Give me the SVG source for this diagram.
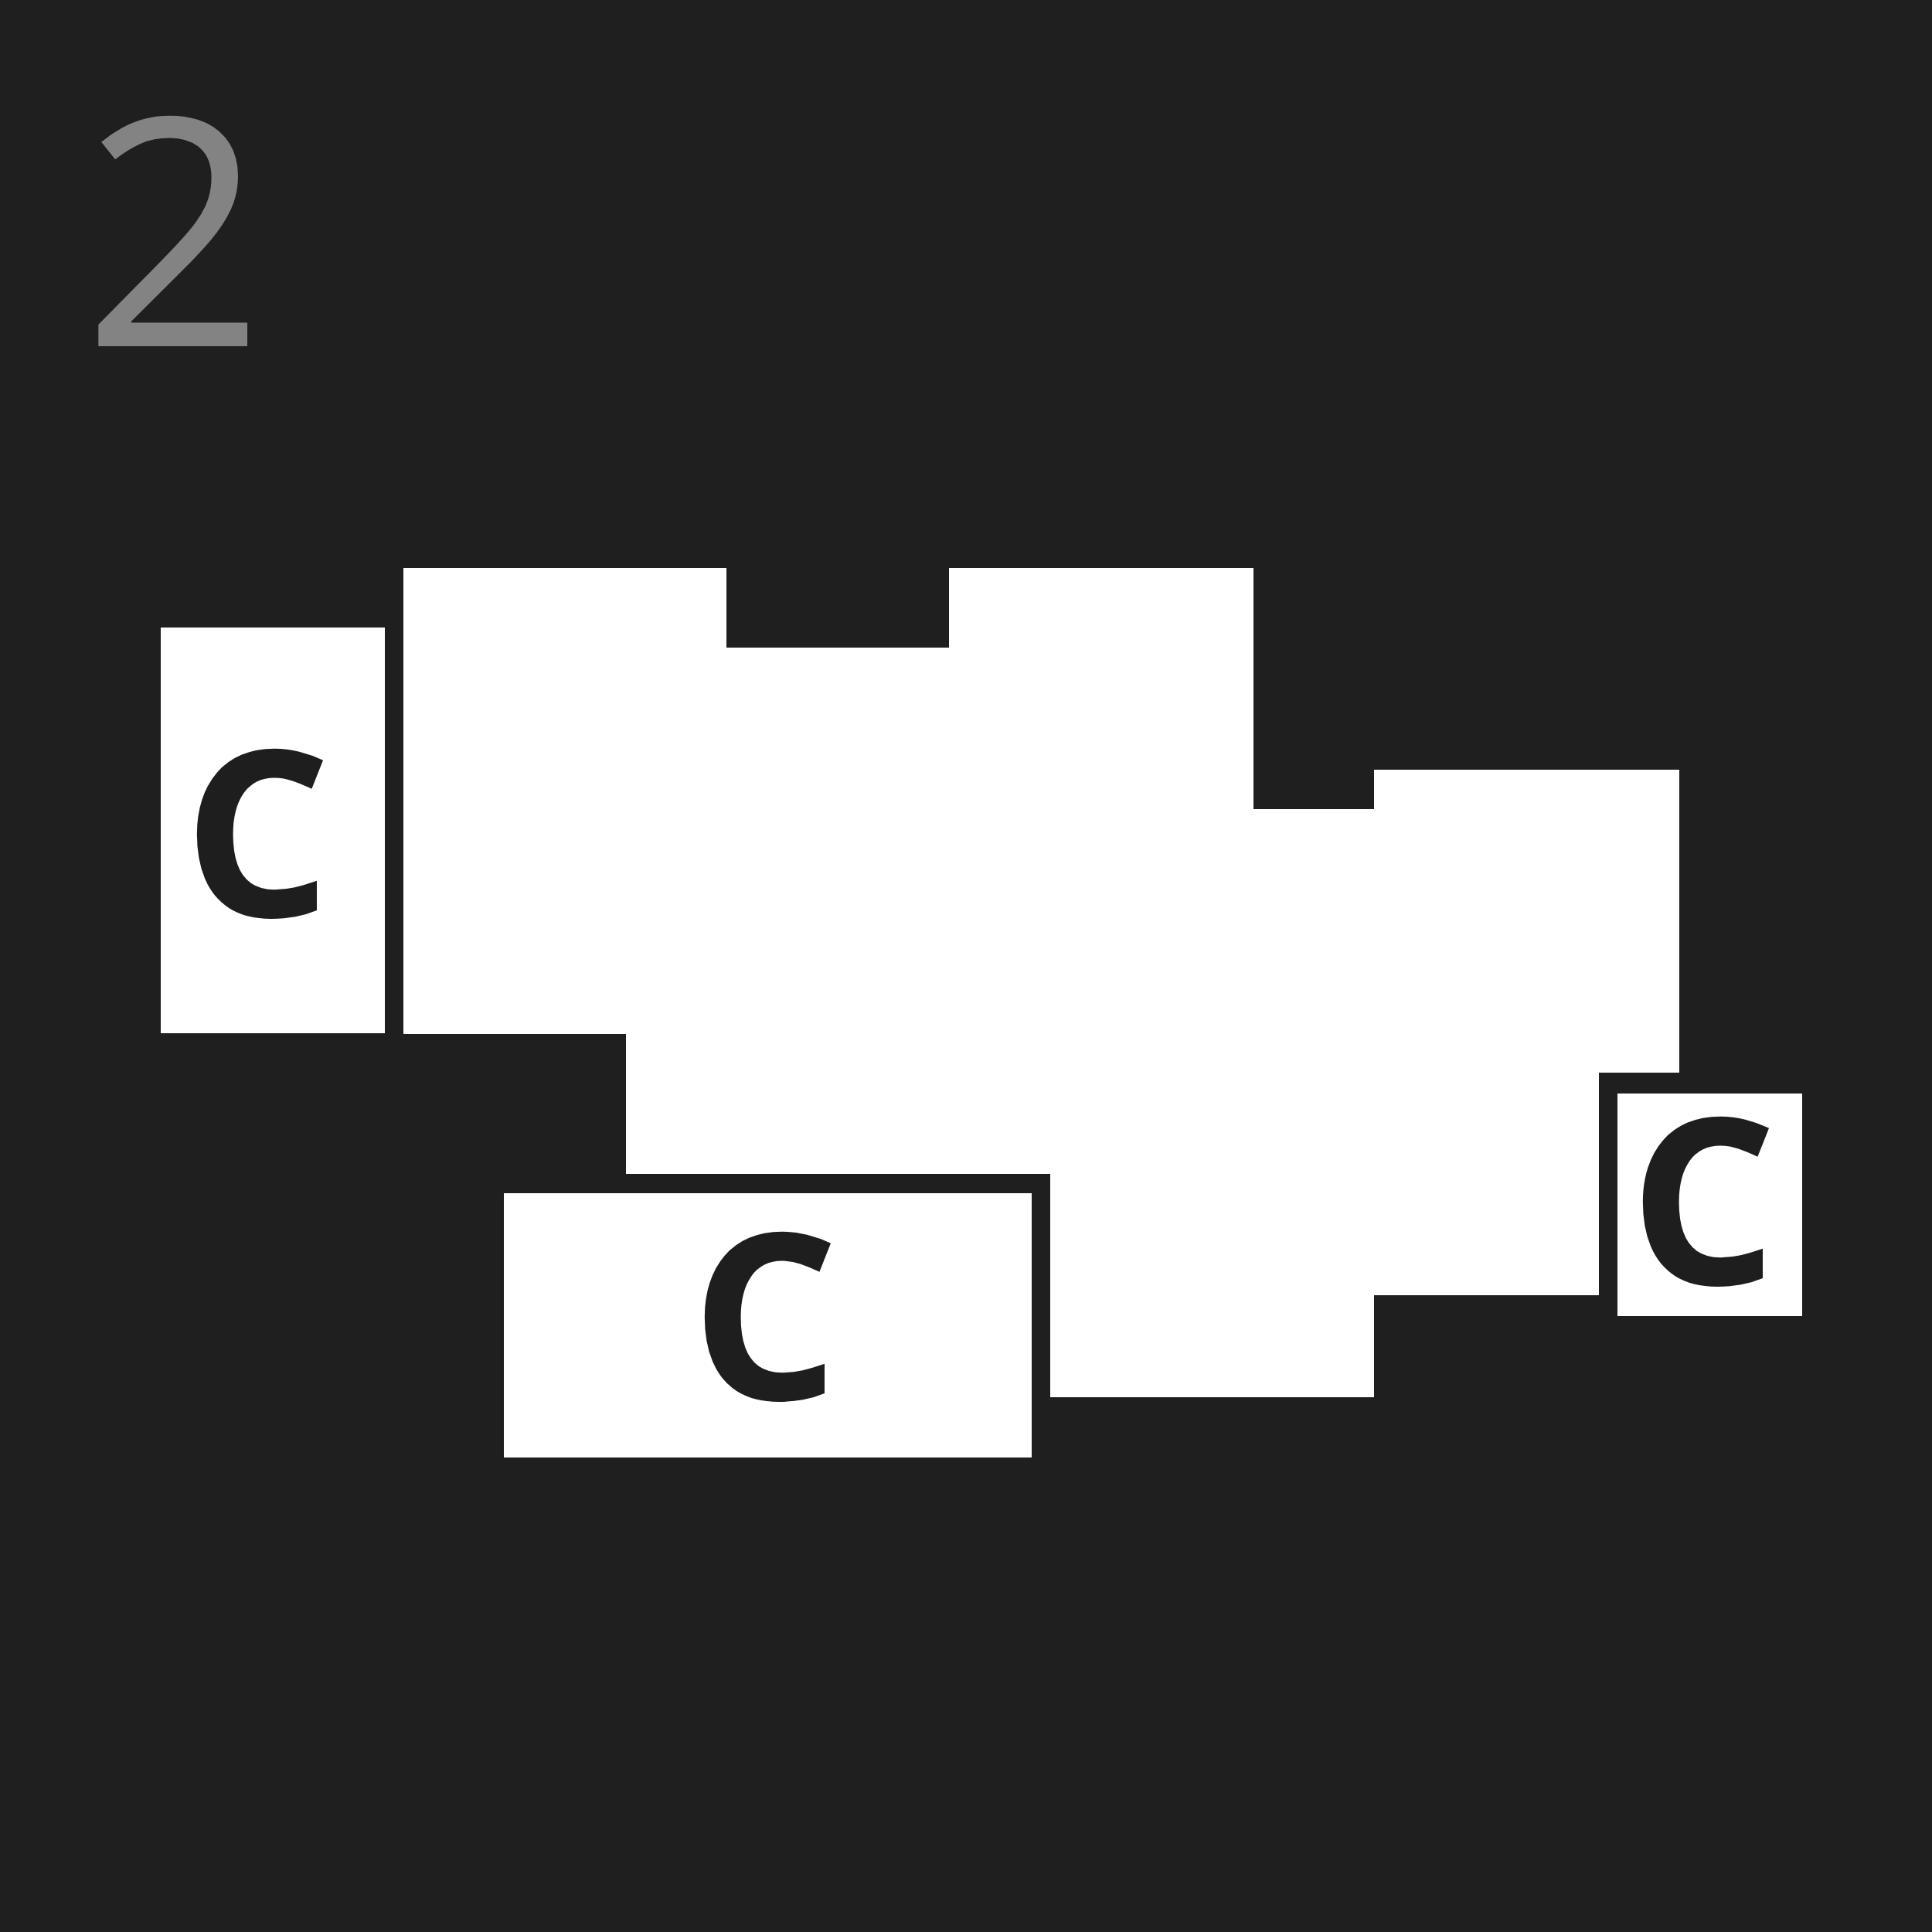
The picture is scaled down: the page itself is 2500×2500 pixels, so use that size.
<svg xmlns="http://www.w3.org/2000/svg" width="2500" height="2500" viewBox="0 0 2500 2500">
<style>
.bg{fill:#1f1f1f}
.room{fill:#ffffff}
.lbl{font-family:"Open Sans","Noto Sans","Liberation Sans",sans-serif;font-weight:700;font-size:300px;fill:#1e1e1e;text-anchor:middle}
.num{font-family:"Open Sans","Noto Sans","Liberation Sans",sans-serif;font-weight:400;font-size:412px;fill:#838383}
</style>
<rect class="bg" x="0" y="0" width="2500" height="2500"/>
<text class="num" x="107" y="448">2</text>
<g id="main-area">
<path class="room" d="M522,735 H940 V838 H1228 V735 H1622 V1047 H1778 V996 H2173 V1388 H2069 V1676 H1778 V1808 H1359 V1519 H810 V1338 H522 Z"/>
</g>
<g id="room-left">
<rect class="room" x="208" y="812" width="290" height="525"/>
<text class="lbl" x="333" y="1186">C</text>
</g>
<g id="room-bottom">
<rect class="room" x="652" y="1544" width="683" height="342"/>
<text class="lbl" x="990" y="1811">C</text>
</g>
<g id="room-right">
<rect class="room" x="2093" y="1415" width="239" height="288"/>
<text class="lbl" x="2204" y="1662">C</text>
</g>
<g id="connectors"></g>
</svg>
